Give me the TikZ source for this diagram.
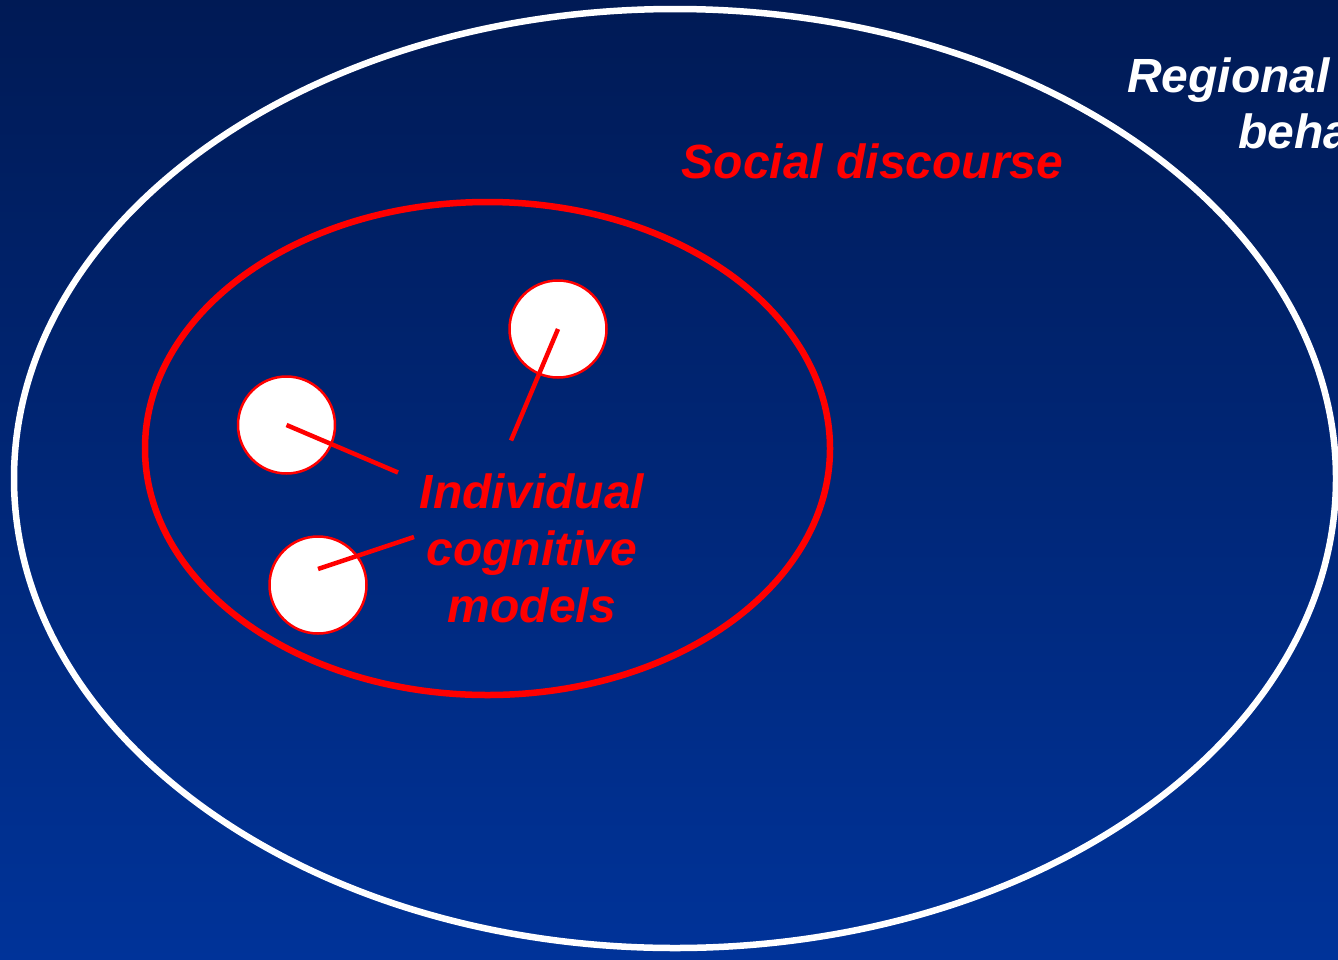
\documentclass[tikz,border=0pt]{standalone}
\usepackage{fontspec}
\setmainfont{Liberation Sans}
\definecolor{navytop}{HTML}{001A55}
\definecolor{navybot}{HTML}{003399}
\begin{document}
\begin{tikzpicture}[x=1pt,y=-1pt,
  every node/.style = {font=\fontsize{48}{57}\selectfont\bfseries\itshape,
    inner sep=0pt, outer sep=0pt},
  redlabel/.style = {text=red},
  whitelabel/.style = {text=white},
  person/.style = {shape=circle, draw=red, line width=2.5pt,
    fill=white, minimum size=97pt},
  leader/.style = {draw=red, line width=4.5pt}]
\useasboundingbox (0,0) rectangle (1338,959);
\clip (0,0) rectangle (1338,959);
\shade[top color=navytop, bottom color=navybot] (0,0) rectangle (1338,959);
% the two nested ellipses
\draw[white, line width=6.5pt] (675,478.5) ellipse [x radius=661, y radius=469.5];
\draw[red, line width=6.5pt] (487.5,448.5) ellipse [x radius=342.5, y radius=246.5];
% labels
\node[whitelabel, anchor=base west] (region) at (1127,92) {Regional};
\node[whitelabel, anchor=base west] (behav) at (1238,148) {beha};
\node[redlabel, anchor=base] (discourse) at (872.5,178) {Social discourse};
\node[redlabel, align=center, anchor=base] (models) at (532,622)
  {Individual\\cognitive\\models};
% individuals
\node[person] (top) at (558,329) {};
\node[person] (left) at (286.5,425) {};
\node[person] (low) at (318,585) {};
\coordinate (topend) at (511,440.5);
\coordinate (leftend) at (398,472.5);
\coordinate (lowend) at (414,537);
\draw[leader] (top.center) -- (topend);
\draw[leader] (left.center) -- (leftend);
\draw[leader] (low.center) ++(0,-16) -- (lowend);
\end{tikzpicture}
\end{document}
